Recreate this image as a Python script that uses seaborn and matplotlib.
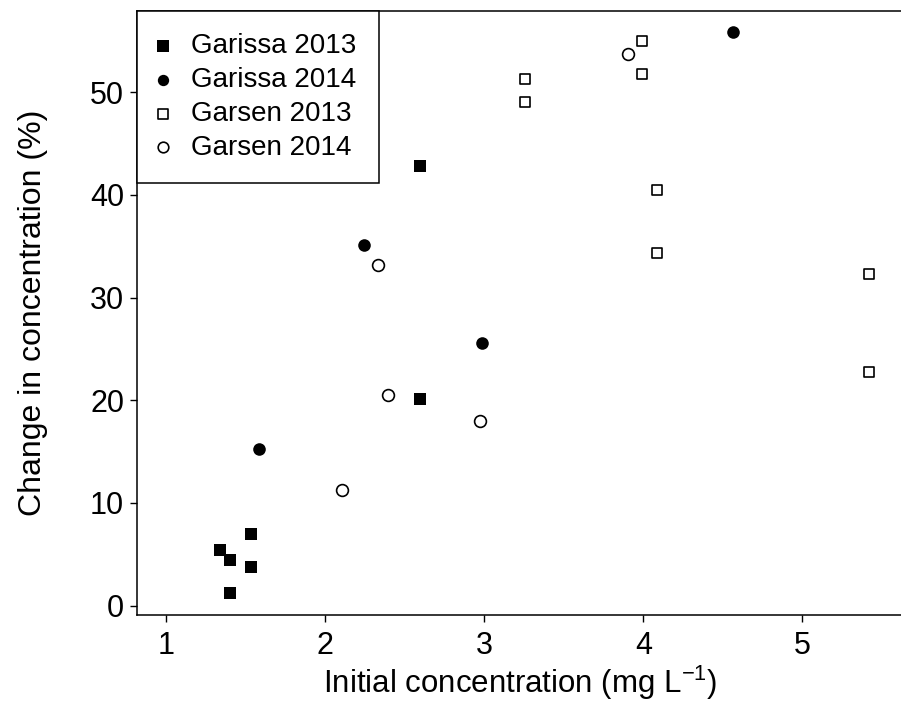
import numpy as np
import pandas as pd
import matplotlib
matplotlib.use('Agg')
import matplotlib.pyplot as plt
import seaborn as sns

# ── Data ───────────────────────────────────────────────────────────────────────

garissa13_x = [1.537, 1.343, 1.406, 1.539, 1.406, 2.599, 2.599]
garissa13_y = [7.0, 5.4, 4.4, 3.8, 1.2, 42.8, 20.1]

garissa14_x = [4.563, 2.243, 2.985, 1.585]
garissa14_y = [55.9, 35.1, 25.6, 15.2]

garsen13_x = [3.993, 3.993, 3.255, 3.255, 4.085, 4.085, 5.42, 5.42]
garsen13_y = [55.0, 51.8, 51.3, 49.0, 40.5, 34.3, 32.3, 22.7]

garsen14_x = [3.905, 2.335, 2.396, 2.973, 2.105]
garsen14_y = [53.7, 33.2, 20.5, 18.0, 11.3]

groups = ['Garissa 2013', 'Garissa 2014', 'Garsen 2013', 'Garsen 2014']

df = pd.concat([
    pd.DataFrame({'x': garissa13_x, 'y': garissa13_y, 'group': groups[0]}),
    pd.DataFrame({'x': garissa14_x, 'y': garissa14_y, 'group': groups[1]}),
    pd.DataFrame({'x': garsen13_x,  'y': garsen13_y,  'group': groups[2]}),
    pd.DataFrame({'x': garsen14_x,  'y': garsen14_y,  'group': groups[3]}),
], ignore_index=True)

# ── Style ──────────────────────────────────────────────────────────────────────

sns.set_style('ticks')
plt.rcParams['font.family'] = ['Liberation Sans', 'DejaVu Sans']
plt.rcParams['mathtext.fontset'] = 'custom'
plt.rcParams['mathtext.rm'] = 'Liberation Sans'
plt.rcParams['mathtext.it'] = 'Liberation Sans:italic'
plt.rcParams['axes.linewidth'] = 1.1
for key in ['text.color', 'axes.labelcolor', 'xtick.color', 'ytick.color', 'axes.edgecolor']:
    plt.rcParams[key] = 'black'

markers = {'Garissa 2013': 's', 'Garissa 2014': 'o', 'Garsen 2013': 's', 'Garsen 2014': 'o'}
faces   = {'Garissa 2013': 'black', 'Garissa 2014': 'black', 'Garsen 2013': 'white', 'Garsen 2014': 'white'}
sizes   = {'Garissa 2013': 78, 'Garissa 2014': 82, 'Garsen 2013': 52, 'Garsen 2014': 72}

fig = plt.figure(figsize=(9.01, 7.21), dpi=100)
ax = fig.add_axes([0.1517, 0.1466, 0.8503, 0.8381])

for g in groups:
    sub = df[df['group'] == g]
    filled = faces[g] == 'black'
    sns.scatterplot(data=sub, x='x', y='y', ax=ax, marker=markers[g], s=sizes[g],
                    color='black', facecolor=faces[g], edgecolor='black',
                    linewidth=0 if filled else 1.2, label=g, zorder=3)

ax.set_xlim(0.818, 5.63)
ax.set_ylim(-0.95, 57.9)
ax.set_xticks([1, 2, 3, 4, 5])
ax.set_yticks([0, 10, 20, 30, 40, 50])
ax.tick_params(axis='both', labelsize=22, length=5, width=1.0, direction='out')
ax.tick_params(axis='x', pad=6)
ax.tick_params(axis='y', pad=4)

ax.set_xlabel(r'Initial concentration (mg L$^{-1}$)', fontsize=22.5, labelpad=2)
ax.set_ylabel('Change in concentration (%)', fontsize=23, labelpad=30)

# the right edge of the box runs off the picture in the original
ax.spines['top'].set_visible(True)
ax.spines['right'].set_visible(False)

leg = ax.legend(loc='upper left', bbox_to_anchor=(0, 1), borderaxespad=0,
                fontsize=20, frameon=True, fancybox=False, framealpha=1,
                edgecolor='black', handletextpad=0.86, borderpad=0.8,
                labelspacing=0.28, markerscale=0.9, handlelength=0.3)
leg.get_frame().set_linewidth(1.1)

plt.savefig('out.png', dpi=100)
plt.close()
